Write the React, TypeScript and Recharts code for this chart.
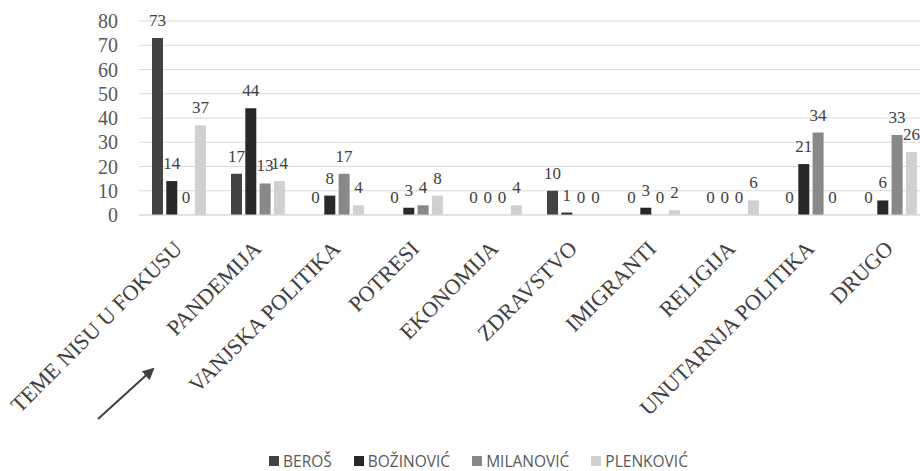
import React from 'react';
import { BarChart, Bar, XAxis, YAxis, CartesianGrid, Legend, LabelList } from 'recharts';

const categories = [
  'TEME NISU U FOKUSU',
  'PANDEMIJA',
  'VANJSKA POLITIKA',
  'POTRESI',
  'EKONOMIJA',
  'ZDRAVSTVO',
  'IMIGRANTI',
  'RELIGIJA',
  'UNUTARNJA POLITIKA',
  'DRUGO',
];

const beros = [73, 17, 0, 0, 0, 10, 0, 0, 0, 0];
const bozinovic = [14, 44, 8, 3, 0, 1, 3, 0, 21, 6];
const milanovic = [0, 13, 17, 4, 0, 0, 0, 0, 34, 33];
const plenkovic = [37, 14, 4, 8, 4, 0, 2, 6, 0, 26];

const yTicks = [0, 10, 20, 30, 40, 50, 60, 70, 80];

const series = [
  { key: 'BEROŠ', values: beros, color: '#434343' },
  { key: 'BOŽINOVIĆ', values: bozinovic, color: '#282828' },
  { key: 'MILANOVIĆ', values: milanovic, color: '#888888' },
  { key: 'PLENKOVIĆ', values: plenkovic, color: '#d0d0d0' },
];

const data = categories.map((name, i) => {
  const row: Record<string, string | number> = { name };
  series.forEach((s) => {
    row[s.key] = s.values[i];
  });
  return row;
});

const SERIF = 'Liberation Serif';
const SANS = 'Open Sans';

function CategoryTick({ x, y, payload }: any) {
  return (
    <g transform={`translate(${x + 5},${y + 35})`}>
      <text
        transform="rotate(-45)"
        textAnchor="end"
        fill="#404040"
        style={{ fontFamily: SERIF, fontSize: 22 }}
      >
        {payload.value}
      </text>
    </g>
  );
}

function YTick({ x, y, payload }: any) {
  return (
    <text
      x={x}
      y={y}
      dy={7}
      textAnchor="end"
      fill="#595959"
      style={{ fontFamily: SERIF, fontSize: 20 }}
    >
      {payload.value}
    </text>
  );
}

function ValueLabel({ x, y, width, value }: any) {
  return (
    <text
      x={x + width / 2}
      y={y - 12}
      textAnchor="middle"
      fill="#404040"
      style={{ fontFamily: SERIF, fontSize: 17 }}
    >
      {String(value)}
    </text>
  );
}

// zero-valued bars get a hair-thin height so that their "0" label is still drawn
const zeroMin = (value: any) => (Number(value) === 0 ? 0.01 : 0);

function LegendBox() {
  return (
    <div
      style={{
        display: 'flex',
        justifyContent: 'center',
        alignItems: 'center',
        width: 957,
        height: 20,
        fontFamily: SANS,
        fontSize: 15.5,
        color: '#595959',
      }}
    >
      {series.map((s, i) => (
        <div key={s.key} style={{ display: 'flex', alignItems: 'center', marginLeft: i === 0 ? 0 : 22 }}>
          <span style={{ width: 10, height: 10, background: s.color, marginRight: 4, display: 'inline-block' }} />
          <span>{s.key}</span>
        </div>
      ))}
    </div>
  );
}

export default function App() {
  return (
    <div style={{ position: 'absolute', left: 0, top: 0, width: 920, height: 471, overflow: 'hidden', background: '#fff', fontFamily: SERIF }}>
      <BarChart
        width={930}
        height={471}
        data={data}
        margin={{ top: 21, right: 1, left: 0, bottom: 0 }}
        barSize={11}
        barGap={3.3}
      >
        <CartesianGrid vertical={false} stroke="#d9d9d9" strokeWidth={1} />
        <XAxis
          dataKey="name"
          interval={0}
          height={236}
          tickLine={false}
          tickSize={0}
          tickMargin={0}
          axisLine={{ stroke: '#d9d9d9' }}
          tick={<CategoryTick />}
        />
        <YAxis
          width={139}
          domain={[0, 80]}
          ticks={yTicks}
          interval={0}
          axisLine={false}
          tickLine={false}
          tickSize={0}
          tickMargin={21}
          tick={<YTick />}
        />
        <Legend
          verticalAlign="bottom"
          content={<LegendBox />}
          wrapperStyle={{ position: 'absolute', left: 0, top: 451, width: 957, height: 20 }}
        />
        {series.map((s) => (
          <Bar key={s.key} dataKey={s.key} fill={s.color} minPointSize={zeroMin} isAnimationActive={false}>
            <LabelList dataKey={s.key} content={<ValueLabel />} />
          </Bar>
        ))}
      </BarChart>
      <svg
        width={920}
        height={471}
        style={{ position: 'absolute', left: 0, top: 0, pointerEvents: 'none' }}
      >
        <defs>
          <marker id="arrowHead" markerWidth="6" markerHeight="6" refX="5" refY="3" orient="auto" markerUnits="strokeWidth">
            <path d="M0,0 L6,3 L0,6 z" fill="#404040" />
          </marker>
        </defs>
        <line x1={98} y1={419} x2={153} y2={369} stroke="#404040" strokeWidth={2} markerEnd="url(#arrowHead)" />
      </svg>
    </div>
  );
}
